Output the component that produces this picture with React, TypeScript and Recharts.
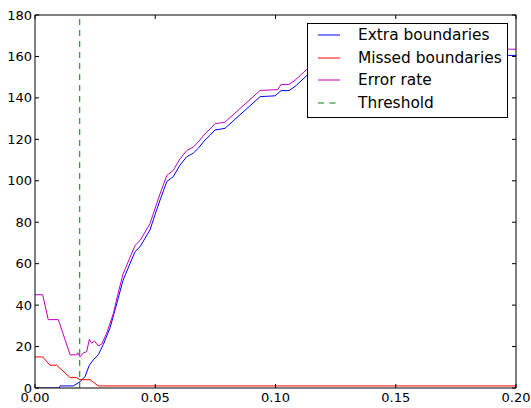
import React from 'react';
import { LineChart, Line, XAxis, YAxis, ReferenceLine, Legend } from 'recharts';

// ---- data ----
const extraX = [0, 0.0101, 0.0104, 0.0159, 0.0187, 0.0208, 0.0226, 0.0242, 0.0263, 0.0284, 0.0312, 0.0343, 0.0366, 0.0416, 0.0437, 0.0478, 0.0506, 0.052, 0.0548, 0.0575, 0.0603, 0.0631, 0.0658, 0.0679, 0.0707, 0.0728, 0.0748, 0.079, 0.0936, 0.0998, 0.1023, 0.1056, 0.1081, 0.1123, 0.1143, 0.1227, 0.1351, 0.1518, 0.1726, 0.2];
const extraY = [0, 0, 1, 1, 3, 5.5, 11, 13.5, 16, 21, 29, 42, 52, 65.8, 68.2, 76.3, 86, 90.7, 99.6, 102, 107.6, 111.6, 113.3, 115.7, 119.7, 122, 124.5, 125.3, 140.6, 141, 143.5, 143.5, 145.5, 150, 152, 155, 158, 160, 160.5, 160.5];

const missedX = [0, 0.0032, 0.0062, 0.009, 0.0146, 0.0173, 0.0187, 0.0229, 0.0263, 0.2];
const missedY = [15, 15, 11, 11, 5, 5, 4, 4, 1, 1];

const errorX = [0, 0.0032, 0.0055, 0.0097, 0.0146, 0.0173, 0.0178, 0.0187, 0.0201, 0.0215, 0.0226, 0.0236, 0.0247, 0.0263, 0.0277, 0.0298, 0.0326, 0.0343, 0.0366, 0.0416, 0.0437, 0.0478, 0.0506, 0.052, 0.0548, 0.0575, 0.0603, 0.0631, 0.0658, 0.0679, 0.0707, 0.0728, 0.0748, 0.079, 0.0936, 0.101, 0.1023, 0.1056, 0.1081, 0.1123, 0.1143, 0.1227, 0.1351, 0.1518, 0.1726, 0.2];
const errorY = [45, 45, 33, 33, 16, 16, 17, 15, 17, 17.5, 23.5, 21.6, 22.7, 20.3, 21.1, 26.4, 36, 44.5, 55, 68.8, 71.2, 79.3, 89, 93.7, 102.6, 105, 110.6, 114.6, 116.3, 118.7, 122.7, 125, 127.5, 128.3, 143.6, 144, 146.5, 146.5, 148.5, 153, 155, 158, 161, 163, 163.5, 163.5];

const threshold = 0.0186;

const xTicks = [0, 0.05, 0.1, 0.15, 0.2];
const yTicks = [0, 20, 40, 60, 80, 100, 120, 140, 160, 180];
const seriesNames = ['Extra boundaries', 'Missed boundaries', 'Error rate', 'Threshold'];

// ---- style ----
const COLORS = ['#0000ff', '#ff0000', '#bf00bf', '#008000'];
const FONT = 'DejaVu Sans';
const TICK_FS = 13;
const LEGEND_FS = 15.4;

const toData = (xs: number[], ys: number[]) => xs.map((x, i) => ({ x, y: ys[i] }));
const extraData = toData(extraX, extraY);
const missedData = toData(missedX, missedY);
const errorData = toData(errorX, errorY);

const BottomTick = (props: any) => {
  const { x, y, payload } = props;
  return (
    <g>
      <line x1={x} x2={x} y1={y} y2={y - 4} stroke="#000" />
      <text x={x} y={y + 14} textAnchor="middle" fontSize={TICK_FS} fontFamily={FONT} fill="#000">
        {Number(payload.value).toFixed(2)}
      </text>
    </g>
  );
};
const TopTick = (props: any) => {
  const { x, y } = props;
  return <line x1={x} x2={x} y1={y} y2={y + 4} stroke="#000" />;
};
const LeftTick = (props: any) => {
  const { x, y, payload } = props;
  return (
    <g>
      <line x1={x} x2={x + 4} y1={y} y2={y} stroke="#000" />
      <text x={x - 3} y={y + 4.6} textAnchor="end" fontSize={TICK_FS} fontFamily={FONT} fill="#000">
        {payload.value}
      </text>
    </g>
  );
};
const RightTick = (props: any) => {
  const { x, y } = props;
  return <line x1={x} x2={x - 4} y1={y} y2={y} stroke="#000" />;
};

const rowCenters = [11, 33.7, 56, 78.7];

const renderLegend = () => (
  <div
    style={{
      position: 'relative',
      width: 201,
      height: 95,
      boxSizing: 'border-box',
      border: '1px solid #000',
      background: '#fff',
    }}
  >
    {seriesNames.map((name, i) => (
      <div key={name} style={{ position: 'absolute', left: 0, top: rowCenters[i] - 10, height: 20, width: 199 }}>
        <svg width={22} height={20} style={{ position: 'absolute', left: 10, top: 0 }}>
          <line
            x1={0}
            x2={22}
            y1={10}
            y2={10}
            stroke={COLORS[i]}
            strokeWidth={1}
            strokeDasharray={i === 3 ? '6 5.5' : undefined}
          />
        </svg>
        <span
          style={{
            position: 'absolute',
            left: 50,
            top: 0,
            lineHeight: '20px',
            fontSize: LEGEND_FS,
            fontFamily: FONT,
            whiteSpace: 'nowrap',
            color: '#000',
          }}
        >
          {name}
        </span>
      </div>
    ))}
  </div>
);

export default function App() {
  return (
    <div style={{ position: 'absolute', left: 0, top: 0, width: 531, height: 408, background: '#fff' }}>
      <LineChart width={531} height={408} margin={{ top: 14, right: 14, bottom: 19, left: 34 }}>
        <XAxis
          xAxisId={0}
          dataKey="x"
          type="number"
          domain={[0, 0.2]}
          ticks={xTicks}
          interval={0}
          height={1}
          tickSize={0}
          tickMargin={0}
          tickLine={false}
          axisLine={{ stroke: '#000' }}
          tick={<BottomTick />}
          allowDataOverflow
        />
        <XAxis
          xAxisId="top"
          orientation="top"
          dataKey="x"
          type="number"
          domain={[0, 0.2]}
          ticks={xTicks}
          interval={0}
          height={1}
          tickSize={0}
          tickMargin={0}
          tickLine={false}
          axisLine={{ stroke: '#000' }}
          tick={<TopTick />}
          allowDataOverflow
        />
        <YAxis
          yAxisId={0}
          type="number"
          domain={[0, 180]}
          ticks={yTicks}
          interval={0}
          width={1}
          tickSize={0}
          tickMargin={0}
          tickLine={false}
          axisLine={{ stroke: '#000' }}
          tick={<LeftTick />}
          allowDataOverflow
        />
        <YAxis
          yAxisId="right"
          orientation="right"
          type="number"
          domain={[0, 180]}
          ticks={yTicks}
          interval={0}
          width={1}
          tickSize={0}
          tickMargin={0}
          tickLine={false}
          axisLine={{ stroke: '#000' }}
          tick={<RightTick />}
          allowDataOverflow
        />
        <Line data={extraData} dataKey="y" name={seriesNames[0]} type="linear" stroke={COLORS[0]} strokeWidth={1} dot={false} isAnimationActive={false} />
        <Line data={missedData} dataKey="y" name={seriesNames[1]} type="linear" stroke={COLORS[1]} strokeWidth={1} dot={false} isAnimationActive={false} />
        <Line data={errorData} dataKey="y" name={seriesNames[2]} type="linear" stroke={COLORS[2]} strokeWidth={1} dot={false} isAnimationActive={false} />
        <ReferenceLine x={threshold} stroke={COLORS[3]} strokeWidth={1} strokeDasharray="6 5" />
        <Legend
          layout="vertical"
          align="center"
          verticalAlign="middle"
          content={renderLegend}
          wrapperStyle={{ left: 307, top: 23, width: 201, height: 95 }}
        />
      </LineChart>
    </div>
  );
}
